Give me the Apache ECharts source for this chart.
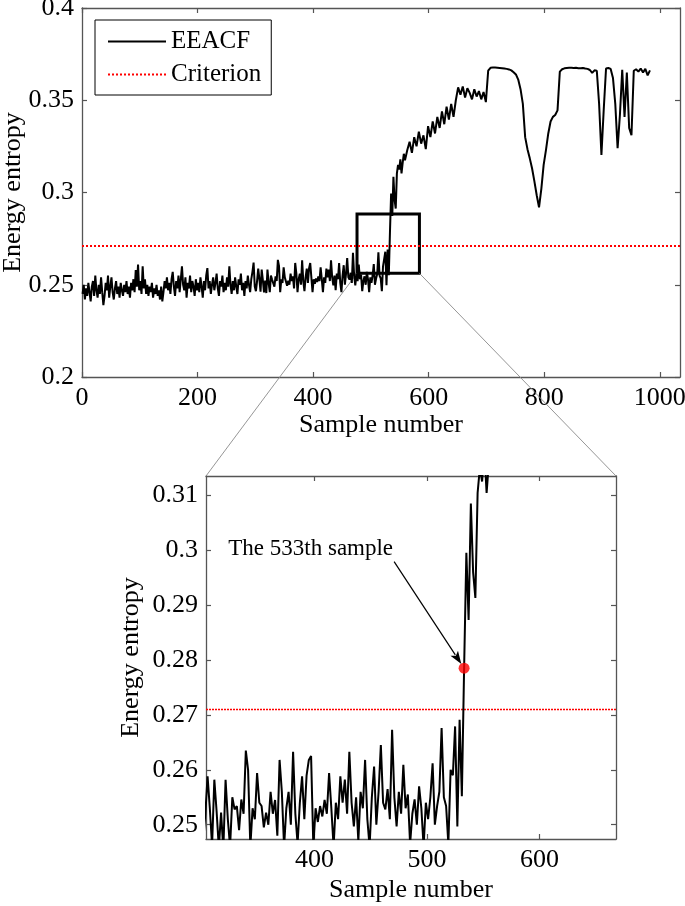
<!DOCTYPE html>
<html><head><meta charset="utf-8">
<script src="https://cdn.jsdelivr.net/npm/echarts@6/dist/echarts.min.js"></script>
<style>html,body{margin:0;padding:0;background:#fff}#c{width:685px;height:906px}</style>
</head><body><div id="c"></div>
<script>
const FONT = "'Liberation Serif','Times New Roman',serif";

// EEACF energy entropy, samples 1,3,5,...,559
const fineStart = 1, fineStep = 2;
const entropyFine = [
0.245,0.250,0.242,0.248,0.244,0.251,0.246,0.241,0.249,0.252,
0.244,0.255,0.247,0.243,0.250,0.245,0.254,0.246,0.239,0.244,
0.251,0.247,0.255,0.243,0.249,0.254,0.246,0.242,0.248,0.252,
0.245,0.249,0.243,0.251,0.247,0.244,0.250,0.246,0.252,0.245,
0.249,0.243,0.251,0.247,0.253,0.246,0.258,0.249,0.261,0.247,
0.252,0.245,0.260,0.248,0.253,0.245,0.250,0.244,0.249,0.246,
0.251,0.243,0.248,0.245,0.250,0.244,0.247,0.242,0.249,0.241,
0.246,0.252,0.248,0.254,0.247,0.251,0.245,0.253,0.257,0.249,
0.244,0.252,0.248,0.255,0.246,0.253,0.260,0.250,0.247,0.254,
0.243,0.251,0.248,0.255,0.246,0.252,0.249,0.244,0.253,0.247,
0.251,0.246,0.254,0.249,0.243,0.252,0.247,0.255,0.259,0.248,
0.252,0.245,0.250,0.254,0.247,0.251,0.256,0.248,0.244,0.252,
0.249,0.255,0.246,0.251,0.247,0.254,0.249,0.260,0.250,0.245,
0.252,0.247,0.254,0.249,0.245,0.253,0.250,0.256,0.247,0.251,
0.244,0.252,0.248,0.255,0.250,0.246,0.253,0.257,0.262,0.249,
0.2465,0.2520,0.2588,0.2530,0.2462,0.2582,0.2525,0.2458,0.2522,0.2455,
0.2582,0.2510,0.2460,0.2550,0.2528,0.2534,0.2490,0.2546,0.2520,0.2635,
0.2600,0.2460,0.2530,0.2510,0.2594,0.2540,0.2534,0.2495,0.2522,0.2500,
0.2560,0.2520,0.2545,0.2480,0.2618,0.2560,0.2460,0.2530,0.2560,0.2500,
0.2633,0.2520,0.2465,0.2540,0.2588,0.2510,0.2590,0.2618,0.2625,0.2460,
0.2530,0.2505,0.2534,0.2515,0.2545,0.2520,0.2594,0.2530,0.2460,0.2540,
0.2510,0.2588,0.2540,0.2582,0.2520,0.2633,0.2540,0.2497,0.2550,0.2470,
0.2560,0.2530,0.2618,0.2510,0.2460,0.2550,0.2606,0.2500,0.2560,0.2645,
0.2540,0.2528,0.2565,0.2510,0.2673,0.2550,0.2497,0.2560,0.2520,0.2609,
0.2530,0.2555,0.2465,0.2520,0.2546,0.2500,0.2570,0.2530,0.2460,0.2540,
0.2510,0.2550,0.2612,0.2500,0.2534,0.2560,0.2676,0.2550,0.2534,0.2465,
0.2600,0.2590,0.2679,0.2497,0.2691,0.2552,
0.2785,0.2995,0.2873,0.3085,0.2960,0.2913,0.3104,0.3150,0.3125,0.3180,
0.3104,0.3160,0.3210,0.3175
];
// samples 563,567,...,983
const coarseStart = 563, coarseStep = 4;
const entropyCoarse = [
0.3230,0.3275,0.3215,0.3300,0.3250,0.3330,0.3265,0.3310,0.3235,0.3360,
0.3300,0.3385,0.3320,0.3410,0.3350,0.3440,0.3370,0.3465,0.3395,0.3480,
0.3410,0.3500,
0.3570,0.3530,0.3575,0.3515,0.3565,0.3540,0.3505,0.3560,0.3520,0.3550,
0.3505,0.3545,0.3490,
0.3660,0.3676,0.3677,0.3677,0.3676,0.3675,0.3674,0.3672,0.3670,0.3667,
0.3662,0.3652,0.3640,0.3612,0.3560,0.3480,0.3300,0.3235,0.3185,0.3130,
0.3060,0.2985,0.2920,0.3020,0.3150,0.3230,0.3320,0.3385,0.3410,0.3420,
0.3445,0.3655,0.3668,0.3673,0.3675,0.3676,0.3676,0.3675,0.3676,0.3674,
0.3673,0.3675,0.3672,0.3670,0.3664,0.3648,0.3662,0.3660,0.3480,0.3203,
0.3450,0.3672,0.3675,0.3670,0.3620,0.3480,0.3240,0.3420,0.3665,0.3410,
0.3650,0.3350,0.3310,0.3660,0.3668,0.3655,0.3672,0.3650,0.3670,0.3635,
0.3662
];
const criterion = 0.271;
const detectedSample = 533;
const zoomBoxX = [476, 584];
const zoomBoxY = [0.2562, 0.2883];
const topXRange = [0, 1035];
const topYRange = [0.2, 0.4];
const zoomXRange = [303.6, 668];
const zoomYRange = [0.2474, 0.3135];
const topXTicks = [0, 200, 400, 600, 800, 1000];
const topYTicks = [0.2, 0.25, 0.3, 0.35, 0.4];
const zoomXTicks = [400, 500, 600];
const zoomYTicks = [0.25, 0.26, 0.27, 0.28, 0.29, 0.3, 0.31];

const eeacf = [];
entropyFine.forEach((v, i) => eeacf.push([fineStart + i * fineStep, v]));
entropyCoarse.forEach((v, i) => eeacf.push([coarseStart + i * coarseStep, v]));
const detectedValue = entropyFine[(detectedSample - fineStart) / fineStep];

const AX = '#555';
const fmt = v => String(+(+v).toFixed(3));
function mkAxis(gridIndex, range, ticks, position, showLabel, extra) {
  return Object.assign({
    type: 'value', gridIndex, position, min: range[0], max: range[1],
    axisLine: { show: true, onZero: false, lineStyle: { color: AX, width: 1.3 } },
    axisTick: { show: true, inside: true, length: 5, customValues: ticks, lineStyle: { color: AX, width: 1.2 } },
    axisLabel: { show: showLabel, customValues: ticks, formatter: fmt, color: '#000', fontSize: 26, fontFamily: FONT },
    splitLine: { show: false }
  }, extra || {});
}
const nameStyle = { color: '#000', fontSize: 26, fontFamily: FONT };

const chart = echarts.init(document.getElementById('c'), null, { renderer: 'canvas' });
chart.setOption({
  animation: false,
  backgroundColor: '#fff',
  grid: [
    { left: 82, top: 8, width: 598, height: 369, outerBoundsMode: 'none', containLabel: false },
    { left: 206, top: 476, width: 410, height: 363, outerBoundsMode: 'none', containLabel: false }
  ],
  xAxis: [
    mkAxis(0, topXRange, topXTicks, 'bottom', true, { name: 'Sample number', nameLocation: 'middle', nameGap: 32, nameTextStyle: nameStyle }),
    mkAxis(0, topXRange, topXTicks, 'top', false),
    mkAxis(1, zoomXRange, zoomXTicks, 'bottom', true, { name: 'Sample number', nameLocation: 'middle', nameGap: 38, nameTextStyle: nameStyle }),
    mkAxis(1, zoomXRange, zoomXTicks, 'top', false)
  ],
  yAxis: [
    mkAxis(0, topYRange, topYTicks, 'left', true, { name: 'Energy entropy', nameLocation: 'middle', nameGap: 56, nameMoveOverlap: false, nameTextStyle: nameStyle }),
    mkAxis(0, topYRange, topYTicks, 'right', false),
    mkAxis(1, zoomYRange, zoomYTicks, 'left', true, { name: 'Energy entropy', nameLocation: 'middle', nameGap: 62, nameMoveOverlap: false, nameTextStyle: nameStyle }),
    mkAxis(1, zoomYRange, zoomYTicks, 'right', false)
  ],
  legend: {
    data: ['EEACF', 'Criterion'], orient: 'vertical', left: 95, top: 20,
    itemWidth: 58, itemHeight: 14, itemGap: 8, padding: [9, 10, 8, 12],
    itemStyle: { opacity: 0 },
    borderColor: '#000', borderWidth: 1, borderRadius: 0, backgroundColor: '#fff',
    textStyle: { color: '#000', fontSize: 25, fontFamily: FONT }
  },
  series: [
    { name: 'EEACF', type: 'line', xAxisIndex: 0, yAxisIndex: 0, data: eeacf, symbol: 'none', showSymbol: false,
      lineStyle: { color: '#000', width: 2 }, itemStyle: { color: '#000' }, z: 3,
      markArea: { silent: true, itemStyle: { color: 'rgba(0,0,0,0)', borderColor: '#000', borderWidth: 3 },
        data: [[{ coord: [zoomBoxX[0], zoomBoxY[1]] }, { coord: [zoomBoxX[1], zoomBoxY[0]] }]] } },
    { name: 'Criterion', type: 'line', xAxisIndex: 0, yAxisIndex: 0, data: [[topXRange[0], criterion], [topXRange[1], criterion]],
      symbol: 'none', lineStyle: { color: '#ff0000', width: 2, type: [2, 2] }, itemStyle: { color: '#ff0000' }, z: 2 },
    { name: 'EEACF', type: 'line', xAxisIndex: 2, yAxisIndex: 2, data: eeacf, symbol: 'none', showSymbol: false, clip: true,
      lineStyle: { color: '#000', width: 2 }, z: 3 },
    { name: 'Criterion', type: 'line', xAxisIndex: 2, yAxisIndex: 2, data: [[zoomXRange[0], criterion], [zoomXRange[1], criterion]],
      symbol: 'none', lineStyle: { color: '#ff0000', width: 1.5, type: [2, 1] }, z: 2 },
    { name: 'detected', type: 'scatter', xAxisIndex: 2, yAxisIndex: 2, data: [[detectedSample, detectedValue]],
      symbolSize: 11, itemStyle: { color: '#ff0000' }, z: 5 }
  ]
});

const toTop = v => chart.convertToPixel({ seriesIndex: 0 }, v);
const toBot = v => chart.convertToPixel({ seriesIndex: 2 }, v);
const bl = toTop([zoomBoxX[0], zoomBoxY[0]]), br = toTop([zoomBoxX[1], zoomBoxY[0]]);
const tl = toBot([zoomXRange[0], zoomYRange[1]]), tr = toBot([zoomXRange[1], zoomYRange[1]]);
const txt = toBot([323.4, 0.3002]);
const a0 = toBot([470.8, 0.2979]);
const dot = toBot([detectedSample, detectedValue]);
const dx = dot[0] - a0[0], dy = dot[1] - a0[1], L = Math.hypot(dx, dy);
const ux = dx / L, uy = dy / L;
const tip = [dot[0] - ux * 5, dot[1] - uy * 5];
const hl = 13, hw = 4.5;
const base = [tip[0] - ux * hl, tip[1] - uy * hl];
chart.setOption({
  graphic: [
    { type: 'line', shape: { x1: bl[0], y1: bl[1], x2: tl[0], y2: tl[1] }, style: { stroke: '#8a8a8a', lineWidth: 0.9 }, z: 1 },
    { type: 'line', shape: { x1: br[0], y1: br[1], x2: tr[0], y2: tr[1] }, style: { stroke: '#8a8a8a', lineWidth: 0.9 }, z: 1 },
    { type: 'text', x: txt[0], y: txt[1], style: { text: 'The 533th sample', fill: '#000', fontSize: 23, fontFamily: FONT, align: 'left', verticalAlign: 'middle' }, z: 10 },
    { type: 'line', shape: { x1: a0[0], y1: a0[1], x2: base[0] + ux * 2, y2: base[1] + uy * 2 }, style: { stroke: '#000', lineWidth: 1.2 }, z: 10 },
    { type: 'polygon', shape: { points: [tip, [base[0] - uy * hw, base[1] + ux * hw], [base[0] + ux * 3, base[1] + uy * 3], [base[0] + uy * hw, base[1] - ux * hw]] }, style: { fill: '#000' }, z: 10 }
  ]
});
</script></body></html>
